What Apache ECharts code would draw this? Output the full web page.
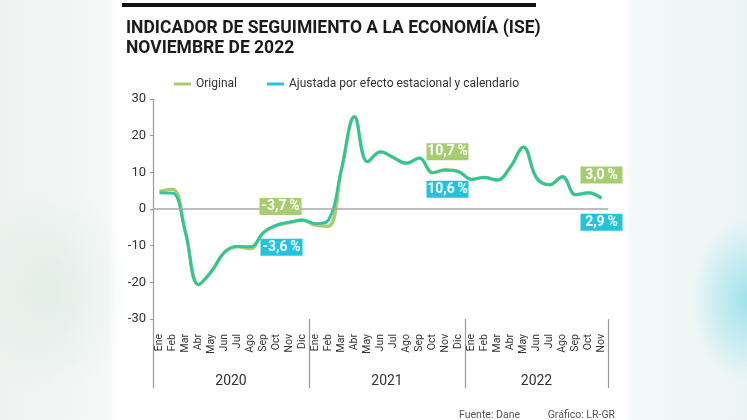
<!DOCTYPE html>
<html>
<head>
<meta charset="utf-8">
<script src="https://cdn.jsdelivr.net/npm/echarts@6/dist/echarts.min.js"></script>
<style>
html,body{margin:0;padding:0;}
body{width:747px;height:420px;overflow:hidden;
background:
 radial-gradient(ellipse 55px 80px at 747px 300px, rgba(110,215,232,0.6), rgba(110,215,232,0) 100%),
 radial-gradient(ellipse 80px 110px at 50px 290px, rgba(205,228,218,0.45), rgba(205,228,218,0) 100%),
 linear-gradient(90deg,#eff2f0 0px,#f6f8f7 108px,#ffffff 116px,#ffffff 624px,#f4f8f8 632px,#ebf4f4 747px);}
#c{width:747px;height:420px;}
</style>
</head>
<body>
<div id="c"></div>
<script>
// ---- data ----
const months = ['Ene','Feb','Mar','Abr','May','Jun','Jul','Ago','Sep','Oct','Nov','Dic',
                'Ene','Feb','Mar','Abr','May','Jun','Jul','Ago','Sep','Oct','Nov','Dic',
                'Ene','Feb','Mar','Abr','May','Jun','Jul','Ago','Sep','Oct','Nov'];
const years = ['2020','2021','2022'];
const yearStart = [0,12,24];
const original = [4.8,5.4,-6.3,-20.6,-17.0,-11.8,-10.3,-10.8,-6.4,-4.5,-3.7,-3.1,
                  -4.4,-4.7,10.8,25.2,12.9,15.6,14.0,12.5,13.9,9.9,10.7,10.2,
                  8.1,8.6,7.9,11.5,16.9,8.5,6.6,8.8,3.9,4.4,3.0];
const adjusted = [4.4,4.3,-6.5,-20.6,-17.0,-11.8,-10.2,-10.3,-6.4,-4.4,-3.6,-3.0,
                  -4.0,-3.0,10.8,25.2,12.9,15.6,14.0,12.5,13.9,9.9,10.6,10.2,
                  8.1,8.6,7.9,11.5,16.9,8.5,6.6,8.8,3.9,4.4,2.9];
const yTicks = [-30,-20,-10,0,10,20,30];
const noteIdx = [10,22,34];
const noteOriginal = [-3.7,10.7,3.0];
const noteAdjusted = [-3.6,10.6,2.9];

const seriesNames = ['Original','Ajustada por efecto estacional y calendario'];
const FONT = 'Roboto, "Liberation Sans", sans-serif';
const GREEN = '#a6cd70', CYAN = '#22c4dd', LINE2 = '#2ec59c';

// year label: centered within each year span
const yearLabelIdx = {5:0,17:1,29:2};
const fmt = v => v.toFixed(1).replace('.',',') + '\u2009%';

const offO = [[-9,-16],[2,-18],[0,-23]];
const offA = [[-8,25],[2,19],[0,24]];

function marks(vals, offs, color){
  return {
    symbol:'rect', symbolSize:[42,17], silent:true,
    itemStyle:{color:color},
    label:{show:true, position:'inside', color:'#fff', fontFamily:FONT, fontSize:14, fontWeight:'bold',
           formatter:p=>fmt(p.value)},
    data: noteIdx.map((ix,k)=>({coord:[ix, vals[k]], value:vals[k], symbolOffset:offs[k]}))
  };
}

const chart = echarts.init(document.getElementById('c'), null, {renderer:'canvas'});
chart.setOption({
  animation:false,
  backgroundColor:'transparent',
  title:[
    {text:'INDICADOR DE SEGUIMIENTO A LA ECONOMÍA (ISE)\nNOVIEMBRE DE 2022', left:121, top:14,
     textStyle:{fontFamily:FONT, fontSize:17.5, fontWeight:'bold', color:'#1b1b1b', lineHeight:20}},
    {text:'Fuente: Dane', right:222, top:405, textStyle:{fontFamily:FONT, fontSize:10.5, fontWeight:'normal', color:'#555'}},
    {text:'Gráfico: LR-GR', right:127, top:405, textStyle:{fontFamily:FONT, fontSize:10.5, fontWeight:'normal', color:'#555'}}
  ],
  graphic:[{type:'rect', left:122, top:3, shape:{width:414, height:4}, style:{fill:'#111'}}],
  legend:{
    left:169, top:73, icon:'rect', itemWidth:17, itemHeight:3, itemGap:30,
    textStyle:{fontFamily:FONT, fontSize:12, color:'#333'},
    data:[{name:seriesNames[0], itemStyle:{color:GREEN}},{name:seriesNames[1], itemStyle:{color:CYAN}}]
  },
  grid:{left:153, right:139, top:99, bottom:101},
  xAxis:[
    {type:'category', data:months, boundaryGap:true, position:'bottom',
     axisLine:{show:false}, axisTick:{show:false},
     axisLabel:{interval:0, rotate:90, margin:15, fontFamily:FONT, fontSize:10.5, color:'#333'}},
    {type:'category', data:months, boundaryGap:true, position:'bottom',
     axisLine:{show:false},
     axisTick:{show:true, length:69, interval:(i)=>yearStart.indexOf(i)>=0 || i===months.length, lineStyle:{color:'#999', width:1.2}},
     axisLabel:{interval:0, margin:55, fontFamily:FONT, fontSize:14, color:'#333',
       formatter:(v,i)=> (i in yearLabelIdx) ? (i===29 ? '{b|'+years[yearLabelIdx[i]]+'}' : '{a|'+years[yearLabelIdx[i]]+'}') : '',
       rich:{a:{padding:[0,0,0,13], fontFamily:FONT, fontSize:14, color:'#333'}, b:{fontFamily:FONT, fontSize:14, color:'#333'}}}}
  ],
  yAxis:{type:'value', min:-30, max:30, interval:10,
    axisLine:{show:true, lineStyle:{color:'#999', width:1.2}},
    axisTick:{show:true, length:3, lineStyle:{color:'#999'}},
    splitLine:{show:false},
    axisLabel:{margin:7, fontFamily:FONT, fontSize:13, color:'#333', customValues:yTicks}},
  series:[
    {name:seriesNames[0], type:'line', data:original, smooth:0.4, symbol:'none',
     lineStyle:{color:GREEN, width:3.5}, itemStyle:{color:GREEN}, z:2,
     markLine:{silent:true, symbol:'none', label:{show:false}, lineStyle:{color:'#a8a8a8', width:1.6, type:'solid'},
               data:[{yAxis:0}]},
     markPoint:marks(noteOriginal, offO, GREEN)},
    {name:seriesNames[1], type:'line', data:adjusted, smooth:0.4, symbol:'none',
     lineStyle:{color:LINE2, width:2.8}, itemStyle:{color:CYAN}, z:3,
     markPoint:marks(noteAdjusted, offA, CYAN)}
  ]
});
</script>
</body>
</html>
